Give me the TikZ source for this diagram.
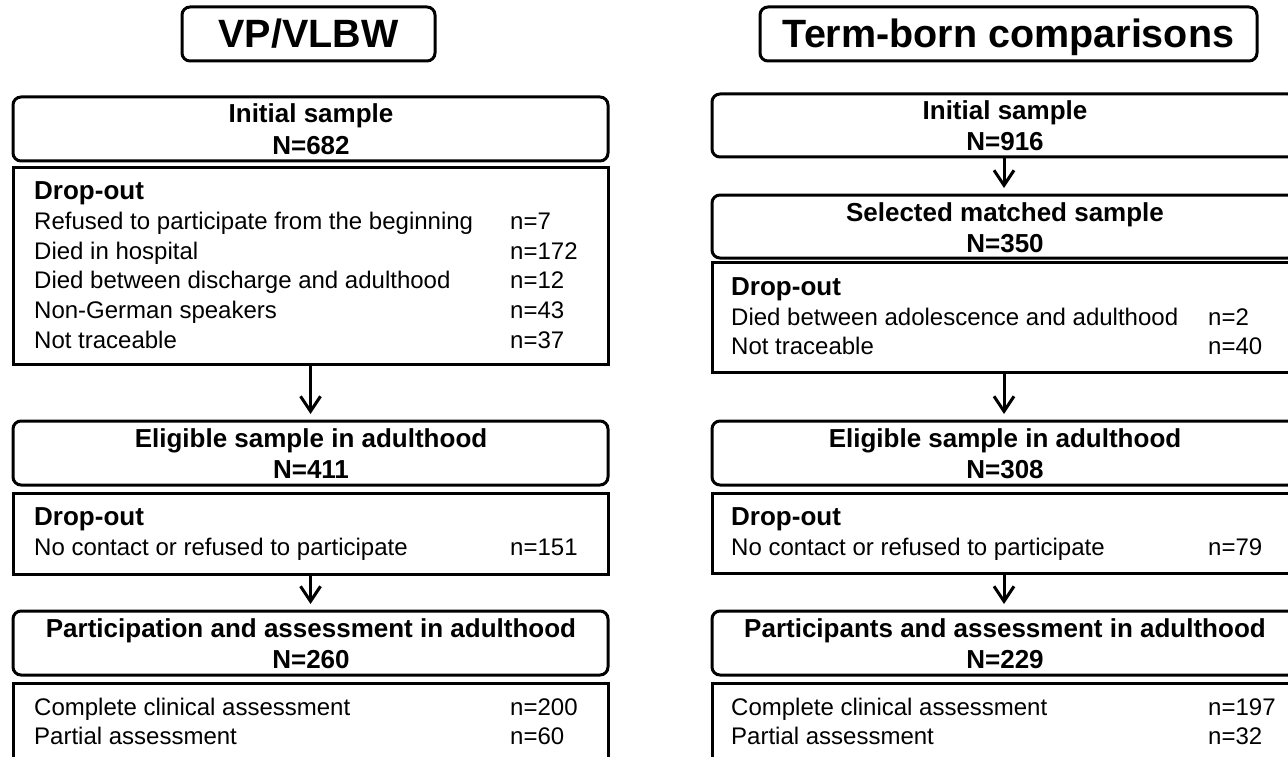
\documentclass[tikz,border=0pt]{standalone}
\usepackage{fontspec}
\setmainfont{Liberation Sans}
\usetikzlibrary{arrows.meta}
\begin{document}
\begin{tikzpicture}[x=1pt,y=-1pt,
  rbox/.style={draw, line width=3pt, rounded corners=8pt, fill=white, inner sep=0pt, outer sep=0pt},
  sbox/.style={draw, line width=3pt, fill=white, inner sep=0pt, outer sep=0pt},
  hd/.style={font=\fontsize{26}{31}\selectfont\bfseries, anchor=base, inner sep=0pt},
  hw/.style={font=\fontsize{26}{31}\selectfont\bfseries, anchor=base west, inner sep=0pt},
  tx/.style={font=\fontsize{24}{29}\selectfont, anchor=base west, inner sep=0pt},
  ttl/.style={font=\fontsize{39.5}{46}\selectfont\bfseries, anchor=base, inner sep=0pt},
  arr/.style={line width=3pt, -{Straight Barb[length=15pt,width=20pt]}, shorten >=7pt}]
\useasboundingbox (0,0) rectangle (1288,757);
\fill[white] (0,0) rectangle (1288,757);
\clip (0,0) rectangle (1288,757);

% ---------- left column ----------
\node[rbox, minimum width=253pt, minimum height=54pt] (LT) at (308.5,34) {};
\node[ttl] (LTt) at (308.5,48) {VP/VLBW};

\node[rbox, minimum width=595pt, minimum height=64pt] (L1) at (310.5,129) {};
\node[hd] (L1a) at (311,123) {Initial sample};
\node[hd] (L1b) at (311,154) {N=682};

\node[sbox, minimum width=595pt, minimum height=196pt] (L2) at (310.5,266) {};
\node[hw] (L2a) at (34,200) {Drop-out};
\node[tx] (L2b) at (34,229.6) {Refused to participate from the beginning};
\node[tx] (L2bn) at (510,229.6) {n=7};
\node[tx] (L2c) at (34,259.2) {Died in hospital};
\node[tx] (L2cn) at (510,259.2) {n=172};
\node[tx] (L2d) at (34,288.8) {Died between discharge and adulthood};
\node[tx] (L2dn) at (510,288.8) {n=12};
\node[tx] (L2e) at (34,318.4) {Non-German speakers};
\node[tx] (L2en) at (510,318.4) {n=43};
\node[tx] (L2f) at (34,348) {Not traceable};
\node[tx] (L2fn) at (510,348) {n=37};

\node[rbox, minimum width=595pt, minimum height=64pt] (L3) at (310.5,453) {};
\node[hd] (L3a) at (311,447) {Eligible sample in adulthood};
\node[hd] (L3b) at (311,478) {N=411};

\node[sbox, minimum width=595pt, minimum height=81pt] (L4) at (310.5,533.5) {};
\node[hw] (L4a) at (34,525) {Drop-out};
\node[tx] (L4b) at (34,555) {No contact or refused to participate};
\node[tx] (L4bn) at (510,555) {n=151};

\node[rbox, minimum width=595pt, minimum height=64pt] (L5) at (310.5,643) {};
\node[hd] (L5a) at (311,637) {Participation and assessment in adulthood};
\node[hd] (L5b) at (311,668) {N=260};

\node[sbox, minimum width=595pt, minimum height=117pt] (L6) at (310.5,741.5) {};
\node[tx] (L6a) at (34,715) {Complete clinical assessment};
\node[tx] (L6an) at (510,715) {n=200};
\node[tx] (L6b) at (34,744) {Partial assessment};
\node[tx] (L6bn) at (510,744) {n=60};

\draw[arr] (L2.south) -- (L3.north);
\draw[arr] (L4.south) -- (L5.north);

% ---------- right column ----------
\node[rbox, minimum width=497pt, minimum height=54pt] (RT) at (1008.5,34) {};
\node[ttl] (RTt) at (1008.5,48) {Term-born comparisons};

\node[rbox, minimum width=584pt, minimum height=63pt] (R1) at (1004,125.5) {};
\node[hd] (R1a) at (1005,120) {Initial sample};
\node[hd] (R1b) at (1005,151) {N=916};

\node[rbox, minimum width=584pt, minimum height=63pt] (R2) at (1004,226.5) {};
\node[hd] (R2a) at (1005,221) {Selected matched sample};
\node[hd] (R2b) at (1005,252) {N=350};

\node[sbox, minimum width=584pt, minimum height=110pt] (R3) at (1004,317) {};
\node[hw] (R3a) at (731,295) {Drop-out};
\node[tx] (R3b) at (731,325) {Died between adolescence and adulthood};
\node[tx] (R3bn) at (1208,325) {n=2};
\node[tx] (R3c) at (731,354) {Not traceable};
\node[tx] (R3cn) at (1208,354) {n=40};

\node[rbox, minimum width=584pt, minimum height=64pt] (R4) at (1004,453) {};
\node[hd] (R4a) at (1005,447) {Eligible sample in adulthood};
\node[hd] (R4b) at (1005,478) {N=308};

\node[sbox, minimum width=584pt, minimum height=80pt] (R5) at (1004,533) {};
\node[hw] (R5a) at (731,525) {Drop-out};
\node[tx] (R5b) at (731,555) {No contact or refused to participate};
\node[tx] (R5bn) at (1208,555) {n=79};

\node[rbox, minimum width=584pt, minimum height=64pt] (R6) at (1004,643) {};
\node[hd] (R6a) at (1005,637) {Participants and assessment in adulthood};
\node[hd] (R6b) at (1005,668) {N=229};

\node[sbox, minimum width=584pt, minimum height=117pt] (R7) at (1004,741.5) {};
\node[tx] (R7a) at (731,715) {Complete clinical assessment};
\node[tx] (R7an) at (1208,715) {n=197};
\node[tx] (R7b) at (731,744) {Partial assessment};
\node[tx] (R7bn) at (1208,744) {n=32};

\draw[arr] (R1.south) -- (R2.north);
\draw[arr] (R3.south) -- (R4.north);
\draw[arr] (R5.south) -- (R6.north);
\end{tikzpicture}
\end{document}
